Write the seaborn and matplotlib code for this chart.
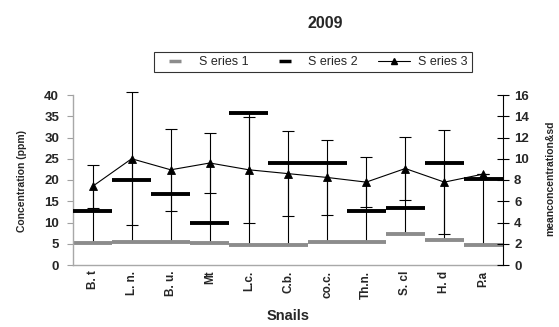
import matplotlib
matplotlib.use("Agg")
import matplotlib.pyplot as plt
from matplotlib.lines import Line2D
import numpy as np
import seaborn as sns

# values (left axis units)
snails = ["B. t", "L. n.", "B. u.", "Mt", "L.c.", "C.b.", "co.c.", "Th.n.", "S. cl", "H. d", "P.a"]
series1 = [5.1, 5.5, 5.3, 5.1, 4.8, 4.6, 5.5, 5.5, 7.2, 6.0, 4.6]
series2 = [12.7, 20.0, 16.7, 10.0, 35.8, 24.1, 24.1, 12.7, 13.4, 24.1, 20.2]
series3 = [18.5, 25.0, 22.4, 24.0, 22.4, 21.5, 20.6, 19.5, 22.7, 19.5, 21.4]
series3_sd = [5.0, 15.6, 9.7, 7.0, 12.5, 10.0, 8.8, 5.9, 7.5, 12.2, 0.0]

left_ticks = [0, 5, 10, 15, 20, 25, 30, 35, 40]
right_ticks = [0, 2, 4, 6, 8, 10, 12, 14, 16]

sns.set_theme(style="white")
plt.rcParams["font.family"] = ["Liberation Sans", "DejaVu Sans"]

fig = plt.figure(figsize=(5.59, 3.27), dpi=100)
ax = fig.add_axes([73 / 559, 62 / 327, 430 / 559, 170 / 327])

idx = np.arange(len(snails))
s1 = np.array(series1)
s2 = np.array(series2)
s3 = np.array(series3)
sd = np.array(series3_sd)

# high-low lines
ax.vlines(idx, s1, np.maximum(s2, s3), color="black", lw=0.8, zorder=1)
# series 1 and 2 drawn as category-wide dashes
ax.hlines(s1, idx - 0.5, idx + 0.5, color="#8c8c8c", lw=2.8, zorder=2)
ax.errorbar(idx, s3, yerr=sd, fmt="none", ecolor="black", elinewidth=0.8,
            capsize=4.5, capthick=0.8, zorder=3, clip_on=False)
ax.hlines(s2, idx - 0.5, idx + 0.5, color="black", lw=2.8, zorder=4)
sns.pointplot(x=snails, y=series3, color="black", markers="^", markersize=5.5,
              linewidth=0.8, errorbar=None, ax=ax, zorder=5)

ax.set_xlim(-0.5, len(snails) - 0.5)
ax.set_ylim(0, 40)
ax.set_yticks(left_ticks)
ax.set_xticks(idx)
ax.set_xticklabels(snails, rotation=90, fontsize=8.5, fontweight="bold")
ax.tick_params(axis="x", length=0, pad=4)
ax.tick_params(axis="y", direction="out", length=4, width=0.8, color="#a0a0a0",
               labelsize=9.5, pad=6)
for lab in ax.get_yticklabels():
    lab.set_fontweight("bold")
ax.set_xlabel("")
ax.set_ylabel("")
for side in ["top", "right"]:
    ax.spines[side].set_visible(False)
for side in ["left", "bottom"]:
    ax.spines[side].set_color("#a8a8a8")
    ax.spines[side].set_linewidth(1.0)

ax2 = ax.twinx()
ax2.set_ylim(0, 16)
ax2.set_yticks(right_ticks)
ax2.tick_params(axis="y", direction="inout", length=8, width=0.8, color="black",
                labelsize=9.5, pad=4)
for lab in ax2.get_yticklabels():
    lab.set_fontweight("bold")
for side in ["top", "left", "bottom"]:
    ax2.spines[side].set_visible(False)
ax2.spines["right"].set_color("black")
ax2.spines["right"].set_linewidth(0.8)

fig.text(325 / 559, 1 - 23 / 327, "2009", ha="center", va="center",
         fontsize=11.5, fontweight="bold")
fig.text(288 / 559, 1 - 316 / 327, "Snails", ha="center", va="center",
         fontsize=10.5, fontweight="bold")
fig.text(22 / 559, 1 - 181 / 327, "Concentration (ppm)", ha="center", va="center",
         rotation=90, fontsize=7.5, fontweight="bold")
fig.text(550 / 559, 1 - 178 / 327, "meanconcentration&sd", ha="center", va="center",
         rotation=90, fontsize=7.5, fontweight="bold")

handles = [
    Line2D([], [], color="#8c8c8c", lw=0, marker="_", markersize=8, markeredgewidth=2.5),
    Line2D([], [], color="black", lw=0, marker="_", markersize=8, markeredgewidth=2.5),
    Line2D([], [], color="black", lw=0.8, marker="^", markersize=5),
]
labels = ["S eries 1", "S eries 2", "S eries 3"]
leg = fig.legend(handles, labels, loc="center", bbox_to_anchor=(313 / 559, 1 - 62 / 327),
                 ncol=3, frameon=True, fancybox=False, fontsize=9,
                 handlelength=2.6, columnspacing=1.6, handletextpad=0.6,
                 borderpad=0.35, borderaxespad=0)
leg.get_frame().set_edgecolor("black")
leg.get_frame().set_linewidth(0.8)

fig.savefig("out.png", dpi=100)
